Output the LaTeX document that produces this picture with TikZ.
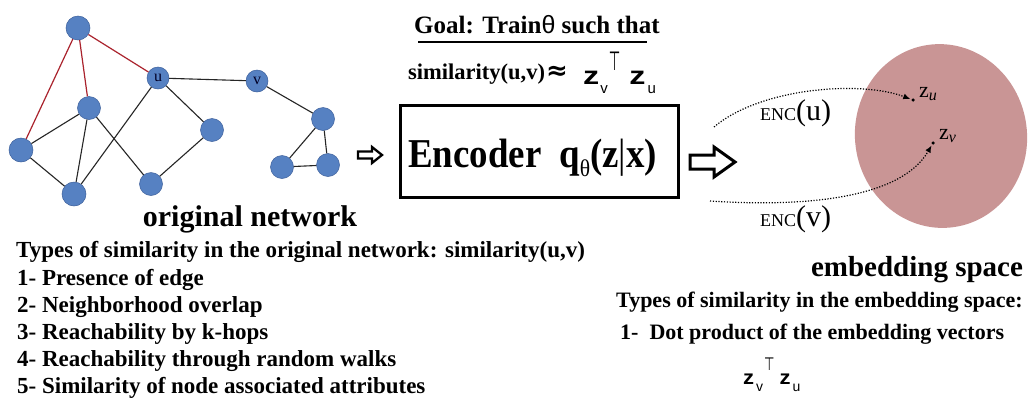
\documentclass[tikz,border=0pt]{standalone}
\usepackage{fontspec}
\usepackage{graphicx}
\setmainfont{Liberation Serif}
\newfontfamily\encfont{Liberation Serif}[FakeStretch=0.9]
\newfontfamily\asans{Liberation Sans}
\newfontfamily\dvs{DejaVu Sans}
\usetikzlibrary{arrows.meta,shapes.geometric}
\definecolor{nodeblue}{RGB}{86,129,194}
\definecolor{nodeedge}{RGB}{60,95,155}
\definecolor{edgered}{RGB}{170,35,45}
\definecolor{embfill}{RGB}{201,149,149}
\newcommand\fs[1]{\fontsize{#1}{#1}\selectfont}
\begin{document}
\begin{tikzpicture}[x=1pt,y=-1pt,
  vert/.style={circle,fill=nodeblue,draw=nodeedge,line width=0.5pt,minimum size=23pt,inner sep=0pt,font=\fs{16},text=black!85!blue},
  bedge/.style={line width=1.1pt,draw=black!85},
  redge/.style={line width=1.2pt,draw=edgered},
  txt/.style={inner sep=0pt,anchor=base west},
  blockarrow/.style={draw=black,fill=white,line join=miter},
  encarrow/.style={line width=1.2pt,dash pattern=on 1.2pt off 1.6pt,-{Latex[length=7pt,width=6pt]},shorten >=1pt},
  zdot/.style={circle,fill=black,inner sep=0pt,minimum size=3.5pt},
]
\useasboundingbox (0,0) rectangle (1028,397);
\fill[white] (0,0) rectangle (1028,397);

% ---------- original network ----------
\node[vert,minimum size=24pt] (t)   at (78,28)  {};
\node[vert,minimum size=22pt] (u)   at (158,78) {u};
\node[vert,minimum size=22pt] (v)   at (257,81) {v};
\node[vert] (m)   at (89,108)  {};
\node[vert,minimum size=24pt] (l)   at (21,150)  {};
\node[vert,minimum size=24pt] (bl)  at (74,194)  {};
\node[vert] (mr)  at (212,130) {};
\node[vert] (bm)  at (151,184) {};
\node[vert] (rt)  at (323,119) {};
\node[vert] (rbl) at (282,167) {};
\node[vert] (rbr) at (328,165) {};

\draw[redge] (t) -- (u);
\draw[redge] (t) -- (m);
\draw[redge] (t) -- (l);
\draw[bedge] (m) -- (l);
\draw[bedge] (m) -- (bl);
\draw[bedge] (m) -- (bm);
\draw[bedge] (l) -- (bl);
\draw[bedge] (u) -- (bl);
\draw[bedge] (u) -- (mr);
\draw[bedge] (mr) -- (bm);
\draw[bedge] (u) -- (v);
\draw[bedge] (v) -- (rt);
\draw[bedge] (rt) -- (rbl);
\draw[bedge] (rt) -- (rbr);
\draw[bedge] (rbl) -- (rbr);

\node[inner sep=0pt,anchor=base] (orig) at (250,226) {\bfseries\fs{30}original network};

% small block arrow
\draw[blockarrow,line width=2.3pt] (358,151.5) -- (372,151.5) -- (372,147) -- (382,155) -- (372,163) -- (372,158.5) -- (358,158.5) -- cycle;

% ---------- goal ----------
\node[txt] (goal) at (414,33) {\bfseries\fs{25}Goal: Train{\asans\mdseries θ} such that};
\draw[line width=1.4pt] (418,42) -- (647,42);
\node[txt] (simtxt) at (408,79) {\bfseries\fs{22.5}similarity(u,v)};
\node[txt] (approx) at (546,79) {\dvs\bfseries\fs{26}≈};
\node[txt] (ztop) at (583,84) {\asans\scalebox{1.7}[1.33]{\bfseries\fs{19}z}\hspace{1pt}\raisebox{-9pt}{\fs{15}v}\hspace{1pt}\raisebox{14pt}{\scalebox{0.55}[1.1]{\dvs\fs{24}⊤}}\hspace{9pt}\scalebox{1.7}[1.33]{\bfseries\fs{19}z}\hspace{2pt}\raisebox{-9pt}{\fs{15}u}};

% ---------- encoder ----------
\node[draw,line width=3pt,minimum width=278pt,minimum height=92pt,inner sep=0pt] (encbox) at (539.5,151.5) {};
\node[txt] (enc) at (408,167) {\encfont\bfseries\fs{41}Encoder\hspace{18pt}q\raisebox{-9pt}{\mdseries\fs{24}θ}(z{\mdseries|}x)};

% big block arrow
\draw[blockarrow,line width=3pt] (690,155) -- (714,155) -- (714,147) -- (735,162) -- (714,177) -- (714,169) -- (690,169) -- cycle;

% ---------- embedding space ----------
\node[ellipse,fill=embfill,minimum width=172pt,minimum height=184pt,rotate=8,inner sep=0pt] (emb) at (941,136) {};
\node[zdot] (zu) at (913,100) {};
\node[zdot] (zv) at (933,143) {};
\node[txt] (zul) at (919,97) {\fs{22}z\raisebox{-3pt}{\itshape\fs{16}u}};
\node[txt] (zvl) at (939,139) {\fs{22}z\raisebox{-3pt}{\itshape\fs{16}v}};
\coordinate (eus) at (714,127);
\coordinate (evs) at (710,201);
\draw[encarrow] (eus) .. controls (760,88) and (860,80) .. (zu);
\draw[encarrow] (evs) .. controls (800,207) and (900,200) .. (zv);
\node[txt] (encu) at (760,120) {\fs{18}ENC\fs{30}(u)};
\node[txt] (encv) at (760,226) {\fs{18}ENC\fs{30}(v)};
\node[inner sep=0pt,anchor=base] (embl) at (917,276) {\bfseries\fs{29}embedding space};

% ---------- lists ----------
\node[txt] (l0) at (16,257) {\bfseries\fs{23}Types of similarity in the original network: similarity(u,v)};
\node[txt] (l1) at (17,285) {\bfseries\fs{23}1- Presence of edge};
\node[txt] (l2) at (17,312) {\bfseries\fs{23}2- Neighborhood overlap};
\node[txt] (l3) at (17,339) {\bfseries\fs{23}3- Reachability by k-hops};
\node[txt] (l4) at (17,366) {\bfseries\fs{23}4- Reachability through random walks};
\node[txt] (l5) at (17,393) {\bfseries\fs{23}5- Similarity of node associated attributes};

\node[txt] (r0) at (616,307) {\bfseries\fs{22}Types of similarity in the embedding space:};
\node[txt] (r1) at (620,339) {\bfseries\fs{22}1-\ \ Dot product of the embedding vectors};
\node[txt] (zbot) at (743,384) {\asans\bfseries\scalebox{1.1}[1]{\fs{20}z}\hspace{2pt}\raisebox{-7pt}{\mdseries\fs{14}v}\hspace{1pt}\raisebox{14pt}{\scalebox{0.5}[0.75]{\dvs\mdseries\fs{24}⊤}}\hspace{5pt}\scalebox{1.1}[1]{\fs{20}z}\hspace{2pt}\raisebox{-7pt}{\mdseries\fs{14}u}};
\end{tikzpicture}
\end{document}
